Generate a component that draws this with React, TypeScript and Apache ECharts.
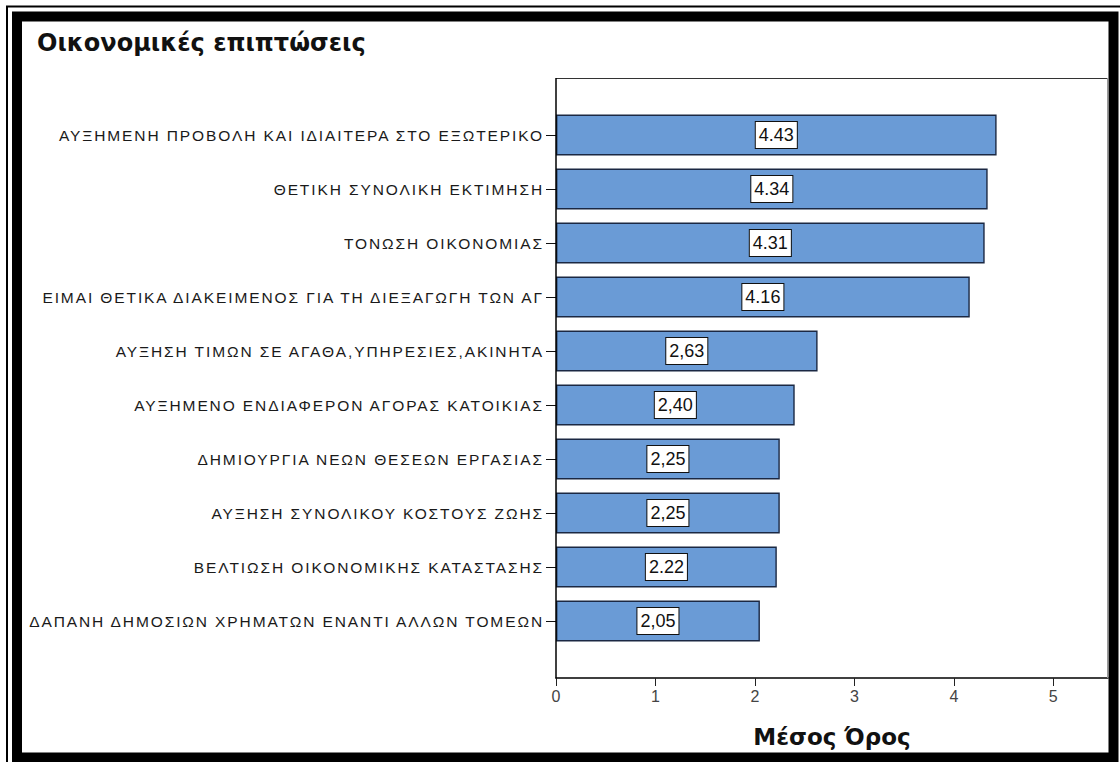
import React, { useEffect, useRef } from "react";
import * as echarts from "echarts";

const titleText = "Οικονομικές επιπτώσεις";
const axisName = "Μέσος Όρος";

const categories = [
  "ΑΥΞΗΜΕΝΗ ΠΡΟΒΟΛΗ ΚΑΙ ΙΔΙΑΙΤΕΡΑ ΣΤΟ ΕΞΩΤΕΡΙΚΟ",
  "ΘΕΤΙΚΗ ΣΥΝΟΛΙΚΗ ΕΚΤΙΜΗΣΗ",
  "ΤΟΝΩΣΗ ΟΙΚΟΝΟΜΙΑΣ",
  "ΕΙΜΑΙ ΘΕΤΙΚΑ ΔΙΑΚΕΙΜΕΝΟΣ ΓΙΑ ΤΗ ΔΙΕΞΑΓΩΓΗ ΤΩΝ ΑΓ",
  "ΑΥΞΗΣΗ ΤΙΜΩΝ ΣΕ ΑΓΑΘΑ,ΥΠΗΡΕΣΙΕΣ,ΑΚΙΝΗΤΑ",
  "ΑΥΞΗΜΕΝΟ ΕΝΔΙΑΦΕΡΟΝ ΑΓΟΡΑΣ ΚΑΤΟΙΚΙΑΣ",
  "ΔΗΜΙΟΥΡΓΙΑ ΝΕΩΝ ΘΕΣΕΩΝ ΕΡΓΑΣΙΑΣ",
  "ΑΥΞΗΣΗ ΣΥΝΟΛΙΚΟΥ ΚΟΣΤΟΥΣ ΖΩΗΣ",
  "ΒΕΛΤΙΩΣΗ ΟΙΚΟΝΟΜΙΚΗΣ ΚΑΤΑΣΤΑΣΗΣ",
  "ΔΑΠΑΝΗ ΔΗΜΟΣΙΩΝ ΧΡΗΜΑΤΩΝ ΕΝΑΝΤΙ ΑΛΛΩΝ ΤΟΜΕΩΝ",
];

const values = [4.43, 4.34, 4.31, 4.16, 2.63, 2.4, 2.25, 2.25, 2.22, 2.05];

const valueLabels = ["4.43", "4.34", "4.31", "4.16", "2,63", "2,40", "2,25", "2,25", "2.22", "2,05"];

const xTicks = [0, 1, 2, 3, 4, 5];

const css = `text[style*="Liberation Sans"] { letter-spacing: 1.9px; }`;

export default function App() {
  const ref = useRef<HTMLDivElement>(null);

  useEffect(() => {
    if (!ref.current) return;
    const chart = echarts.init(ref.current, null, { renderer: "svg" });
    const option: any = {
      animation: false,
      backgroundColor: "#ffffff",
      title: {
        text: titleText,
        left: 37,
        top: 31,
        padding: 0,
        textStyle: {
          fontFamily: "DejaVu Sans",
          fontWeight: "bold",
          fontSize: 24,
          color: "#111111",
        },
      },
      grid: {
        left: 556,
        right: 12,
        top: 108,
        bottom: 114,
        containLabel: false,
      },
      xAxis: {
        type: "value",
        min: 0,
        max: 5.55,
        interval: 1,
        offset: 30,
        name: axisName,
        nameLocation: "middle",
        nameGap: 47,
        nameTextStyle: {
          fontFamily: "DejaVu Sans",
          fontWeight: "bold",
          fontSize: 23,
          color: "#111111",
        },
        axisLine: { show: true, lineStyle: { color: "#000000", width: 1.5 } },
        axisTick: { show: true, length: 8, lineStyle: { color: "#222222", width: 1 } },
        axisLabel: {
          show: true,
          showMaxLabel: false,
          margin: 10,
          fontFamily: "Arial",
          fontSize: 16,
          color: "#444444",
          formatter: (v: number) => (xTicks.indexOf(v) >= 0 ? String(v) : ""),
        },
        splitLine: { show: false },
      },
      yAxis: {
        type: "category",
        inverse: true,
        data: categories,
        axisLine: { show: false },
        axisTick: {
          show: true,
          alignWithLabel: true,
          length: 10,
          lineStyle: { color: "#111111", width: 1 },
        },
        axisLabel: {
          margin: 12,
          fontFamily: "Liberation Sans",
          fontSize: 15.5,
          color: "#1a1a1a",
          interval: 0,
        },
        splitLine: { show: false },
      },
      series: [
        {
          type: "bar",
          data: values,
          barWidth: 41,
          itemStyle: {
            color: "#6a9bd6",
            borderColor: "#1b2843",
            borderWidth: 1.4,
          },
          label: {
            show: true,
            position: "inside",
            formatter: (p: any) => valueLabels[p.dataIndex],
            fontFamily: "Arial",
            fontSize: 18,
            lineHeight: 20,
            color: "#111111",
            backgroundColor: "#ffffff",
            borderColor: "#111111",
            borderWidth: 1,
            padding: [3, 3, 3, 3],
          },
        },
      ],
      graphic: [
        {
          type: "line",
          z: 50,
          shape: { x1: 556, y1: 78.5, x2: 1108, y2: 78.5 },
          style: { stroke: "#333333", lineWidth: 1 },
        },
        {
          type: "line",
          z: 50,
          shape: { x1: 1107.5, y1: 78, x2: 1107.5, y2: 678 },
          style: { stroke: "#999999", lineWidth: 1 },
        },
        {
          type: "line",
          z: 50,
          shape: { x1: 556, y1: 78, x2: 556, y2: 678.5 },
          style: { stroke: "#000000", lineWidth: 1.5 },
        },
        {
          type: "rect",
          z: 100,
          shape: { x: 7, y: 6.5, width: 1140, height: 800 },
          style: { fill: "none", stroke: "#000000", lineWidth: 2 },
        },
        {
          type: "rect",
          z: 100,
          shape: { x: 17, y: 16.5, width: 1096.5, height: 741 },
          style: { fill: "none", stroke: "#000000", lineWidth: 10 },
        },
      ],
    };
    chart.setOption(option);
    return () => {
      chart.dispose();
    };
  }, []);

  return (
    <>
      <style>{css}</style>
      <div
        ref={ref}
        style={{
          position: "absolute",
          left: 0,
          top: 0,
          width: 1120,
          height: 762,
          background: "#ffffff",
        }}
      />
    </>
  );
}
